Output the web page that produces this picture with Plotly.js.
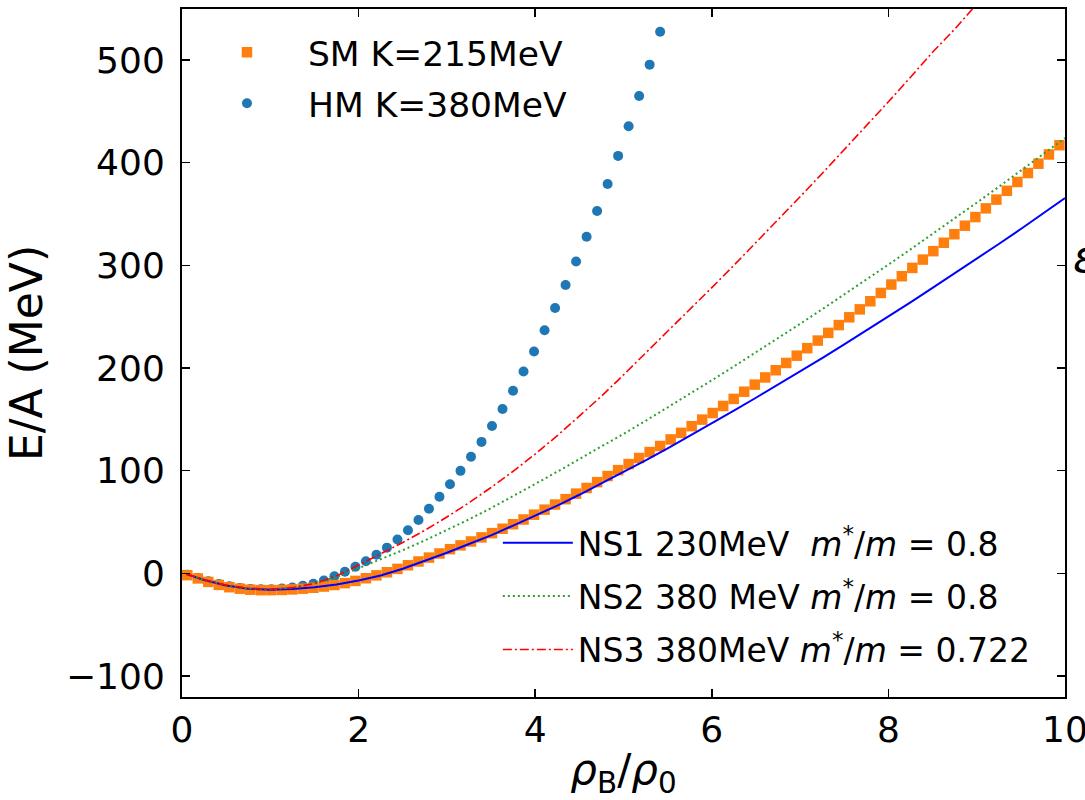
<!DOCTYPE html>
<html>
<head>
<meta charset="utf-8">
<script src="https://cdn.plot.ly/plotly-3.0.1.min.js"></script>
<style>html,body{margin:0;padding:0;background:#fff;}#plot{width:1085px;height:800px;}</style>
</head>
<body>
<div id="plot"></div>
<script>
// SM K=215MeV (orange squares)
const smX = [0.060,0.179,0.298,0.417,0.536,0.655,0.774,0.893,1.012,1.131,1.250,1.369,1.488,1.607,1.726,1.845,1.964,2.083,2.202,2.321,2.440,2.559,2.678,2.797,2.916,3.035,3.154,3.273,3.392,3.511,3.630,3.749,3.868,3.987,4.106,4.225,4.344,4.463,4.582,4.701,4.820,4.939,5.058,5.177,5.296,5.415,5.534,5.653,5.772,5.891,6.010,6.129,6.248,6.367,6.486,6.605,6.724,6.843,6.962,7.081,7.200,7.319,7.438,7.557,7.676,7.795,7.914,8.033,8.152,8.271,8.390,8.509,8.628,8.747,8.866,8.985,9.104,9.223,9.342,9.461,9.580,9.699,9.818,9.937];
const smY = [-1.8,-5.0,-8.4,-11.3,-13.5,-15.0,-16.0,-16.4,-16.4,-16.2,-15.7,-15.0,-14.1,-12.9,-11.4,-9.6,-7.4,-4.8,-2.0,1.0,4.3,7.8,11.5,15.3,19.3,23.5,27.2,31.0,35.0,39.1,43.4,47.8,52.4,57.1,62.0,67.0,72.2,77.6,83.1,88.8,94.7,100.5,106.4,112.3,118.1,124.0,130.4,136.8,143.3,149.7,156.1,163.0,169.9,176.9,183.8,190.8,197.8,204.9,212.0,219.3,226.7,234.2,241.8,249.4,257.1,265.0,273.1,281.3,289.4,297.5,305.6,313.8,322.0,330.3,338.6,347.0,355.5,364.0,372.6,381.2,389.9,399.0,408.0,417.0];

// HM K=380MeV (blue circles)
const hmX = [0.060,0.179,0.298,0.417,0.536,0.655,0.774,0.893,1.012,1.131,1.250,1.369,1.488,1.607,1.726,1.845,1.964,2.083,2.202,2.321,2.440,2.559,2.678,2.797,2.916,3.035,3.154,3.273,3.392,3.511,3.630,3.749,3.868,3.987,4.106,4.225,4.344,4.463,4.582,4.701,4.820,4.939,5.058,5.177,5.296,5.415];
const hmY = [-1.5,-4.5,-7.8,-10.5,-12.6,-14.2,-15.2,-15.6,-15.5,-14.9,-13.8,-12.2,-10.2,-7.0,-2.8,1.5,6.3,11.8,18.0,25.0,33.0,42.0,52.0,62.8,74.5,86.8,99.8,113.5,128.0,143.5,160.0,177.8,196.5,216.0,236.8,258.5,280.8,303.8,327.8,353.0,379.3,406.6,435.5,465.0,495.5,527.5];

// NS curves
const nsX = [0.05,0.25,0.5,0.75,1.0,1.25,1.5,1.75,2.0,2.25,2.5,2.75,3.0,3.25,3.5,3.75,4.0,4.25,4.5,4.75,5.0,5.25,5.5,5.75,6.0,6.25,6.5,6.75,7.0,7.25,7.5,7.75,8.0,8.25,8.5,8.75,9.0,9.25,9.5,9.75,10.0];
const ns1Y = [-0.8,-6.5,-11.8,-15.0,-16.0,-15.4,-13.6,-10.8,-7.0,-2.2,4.5,12.0,20.0,28.5,37.0,46.5,56.0,66.0,76.5,87.5,98.5,110.0,121.8,133.8,146.0,158.4,171.0,183.7,196.6,209.7,223.0,236.5,250.2,264.0,278.0,292.1,306.4,320.8,335.4,350.2,365.5];
const ns2Y = [-0.8,-6.4,-11.6,-14.7,-15.6,-14.0,-10.0,-3.5,5.0,13.5,22.5,32.0,42.0,52.5,63.5,75.0,87.0,99.0,111.0,123.3,135.8,148.5,161.5,174.7,188.0,201.5,215.2,229.0,243.0,257.2,271.5,286.0,300.7,315.5,330.5,345.7,361.0,376.5,392.2,408.0,424.0];
const ns3X = [0.05,0.25,0.5,0.75,1.0,1.25,1.5,1.75,2.0,2.25,2.5,2.75,3.0,3.25,3.5,3.75,4.0,4.25,4.5,4.75,5.0,5.25,5.5,5.75,6.0,6.25,6.5,6.75,7.0,7.25,7.5,7.75,8.0,8.25,8.5,8.75,9.0,9.25];
const ns3Y = [-0.8,-6.3,-11.5,-14.5,-15.3,-14.0,-10.0,-2.5,8.0,19.0,30.0,41.9,54.8,68.7,83.6,99.4,116.2,134.0,152.8,172.5,193.3,214.3,235.5,256.8,278.3,300.0,322.0,344.3,366.8,389.5,412.5,435.8,459.3,483.2,507.5,530.0,554.0,579.0];

const legendLabels = {
  sm: 'SM K=215MeV',
  hm: 'HM K=380MeV',
  ns1: 'NS1 230MeV  <i>m</i><sup>*</sup>/<i>m</i> = 0.8',
  ns2: 'NS2 380 MeV <i>m</i><sup>*</sup>/<i>m</i> = 0.8',
  ns3: 'NS3 380MeV <i>m</i><sup>*</sup>/<i>m</i> = 0.722'
};

const FONT = 'DejaVu Sans, Liberation Sans, sans-serif';

// drawing order: HM dots at the bottom, SM squares above, NS lines on top
const traces = [
  {x: hmX, y: hmY, mode: 'markers', name: legendLabels.hm, marker: {symbol: 'circle', color: '#1f77b4', size: 10}, legend: 'legend', legendgroup: 'e', legendrank: 2},
  {x: smX, y: smY, mode: 'markers', name: legendLabels.sm, marker: {symbol: 'square', color: '#ff7f0e', size: 10.5}, legend: 'legend', legendgroup: 'd', legendrank: 1},
  {x: nsX, y: ns1Y, mode: 'lines', name: legendLabels.ns1, line: {color: '#0000ff', width: 2}, legend: 'legend2', legendgroup: 'a', legendrank: 3},
  {x: nsX, y: ns2Y, mode: 'lines', name: legendLabels.ns2, line: {color: '#2ca02c', width: 2, dash: '2px,3px'}, legend: 'legend2', legendgroup: 'b', legendrank: 4},
  {x: ns3X, y: ns3Y, mode: 'lines', name: legendLabels.ns3, line: {color: '#ff0000', width: 1.6, dash: '9px,3px,2px,3px'}, legend: 'legend2', legendgroup: 'c', legendrank: 5}
];

const layout = {
  width: 1085, height: 800,
  margin: {l: 182, r: 20, t: 9, b: 103},
  paper_bgcolor: '#ffffff', plot_bgcolor: '#ffffff',
  font: {family: FONT, color: '#000000', size: 30},
  showlegend: true,
  xaxis: {
    range: [0, 10], tickvals: [0, 2, 4, 6, 8, 10], ticktext: ['0','2','4','6','8','10'],
    ticks: 'inside', ticklen: 8, tickwidth: 1.5, tickcolor: '#000',
    showline: true, linecolor: '#000', linewidth: 2, mirror: 'ticks',
    showgrid: false, zeroline: false, ticklabeloverflow: 'allow', automargin: false,
    tickfont: {family: FONT, size: 36, color: '#000'},
    title: {text: '<i>ρ</i><sub>B</sub>/<i>ρ</i><sub>0</sub>', font: {family: FONT, size: 42, color: '#000'}}
  },
  yaxis: {
    range: [-120.5, 549.7], tickvals: [-100, 0, 100, 200, 300, 400, 500],
    ticktext: ['\u2212100','0','100','200','300','400','500'],
    ticks: 'inside', ticklen: 8, tickwidth: 1.5, tickcolor: '#000',
    showline: true, linecolor: '#000', linewidth: 2, mirror: 'ticks',
    showgrid: false, zeroline: false,
    tickfont: {family: FONT, size: 36, color: '#000'},
    ticklabelstandoff: 8,
    title: {text: 'E/A (MeV)', font: {family: FONT, size: 44, color: '#000'}, standoff: 10}
  },
  legend: {
    x: 0.0045, y: 0.979, xanchor: 'left', yanchor: 'top',
    bgcolor: 'rgba(255,255,255,0)', borderwidth: 0,
    font: {family: FONT, size: 34.5, color: '#000'},
    tracegroupgap: 3, itemwidth: 112
  },
  legend2: {
    x: 0.3577, y: 0.265, xanchor: 'left', yanchor: 'top',
    bgcolor: 'rgba(255,255,255,0)', borderwidth: 0,
    font: {family: FONT, size: 33, color: '#000'},
    tracegroupgap: 7.5, itemwidth: 70
  },
  annotations: [
    {xref: 'paper', yref: 'paper', x: 1.0, y: 0.64, xshift: 6, xanchor: 'left', yanchor: 'middle',
     text: '<i>ε</i>', showarrow: false, font: {family: FONT, size: 44, color: '#000'}}
  ]
};

Plotly.newPlot('plot', traces, layout, {displayModeBar: false, staticPlot: true});
</script>
</body>
</html>
